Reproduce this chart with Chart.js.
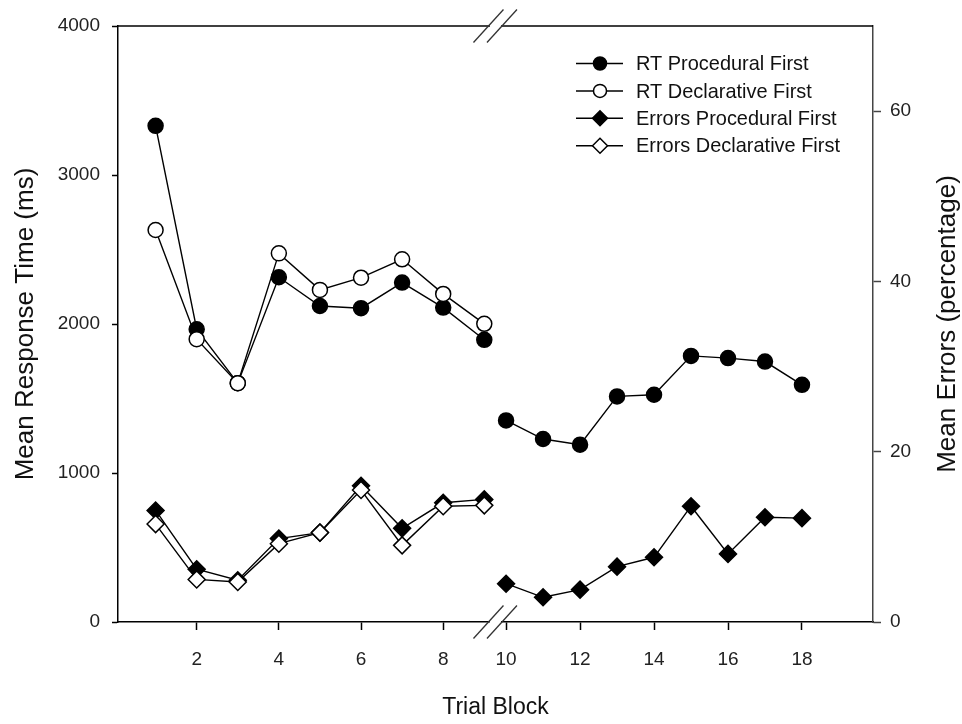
<!DOCTYPE html>
<html>
<head>
<meta charset="utf-8">
<style>
  html, body { margin: 0; padding: 0; background: #fff; }
  #chart { display: block; }
</style>
</head>
<body>
<canvas id="chart" width="962" height="724"></canvas>
<script src="https://cdn.jsdelivr.net/npm/chart.js@4/dist/chart.umd.min.js"></script>
<script>
const FONT = "'Liberation Sans', Arial, Helvetica, sans-serif";

// trial blocks, before and after the axis break
const blocksPhase1 = [1, 2, 3, 4, 5, 6, 7, 8, 9];
const blocksPhase2 = [10, 11, 12, 13, 14, 15, 16, 17, 18];

// mean response time (ms)
const rtProcedural = [3330, 1965, 1603, 2314, 2121, 2106, 2278, 2110, 1894,
                      1353, 1228, 1190, 1514, 1525, 1786, 1771, 1748, 1592];
const rtDeclarative = [2631, 1898, 1603, 2474, 2229, 2311, 2434, 2202, 2001];

// mean errors (percentage)
const errProcedural = [13.1, 6.2, 4.9, 9.8, 10.5, 16.0, 11.0, 14.0, 14.4,
                       4.5, 2.9, 3.8, 6.5, 7.6, 13.6, 8.0, 12.3, 12.2];
const errDeclarative = [11.5, 5.0, 4.7, 9.2, 10.5, 15.5, 9.0, 13.6, 13.7];

const xTicks = [2, 4, 6, 8, 10, 12, 14, 16, 18];
const rtTicks = [0, 1000, 2000, 3000, 4000];
const errTicks = [0, 20, 40, 60];

const seriesLabels = ['RT Procedural First', 'RT Declarative First',
                      'Errors Procedural First', 'Errors Declarative First'];

// broken x axis: [min, lo] on the left half, [hi, max] on the right half
const X_MIN = 0.085, X_MAX = 19.92;
const X_BREAK = { lo: 9.26, hi: 9.70, frac: 0.4993 };

class BrokenLinearScale extends Chart.LinearScale {
  getPixelForValue(value) {
    if (value === null || isNaN(value)) return NaN;
    let d;
    if (value <= X_BREAK.lo) {
      d = (value - this.min) / (X_BREAK.lo - this.min) * X_BREAK.frac;
    } else {
      d = X_BREAK.frac + (value - X_BREAK.hi) / (this.max - X_BREAK.hi) * (1 - X_BREAK.frac);
    }
    return this.getPixelForDecimal(d);
  }
  getValueForPixel(pixel) {
    const d = this.getDecimalForPixel(pixel);
    if (d <= X_BREAK.frac) return this.min + d / X_BREAK.frac * (X_BREAK.lo - this.min);
    return X_BREAK.hi + (d - X_BREAK.frac) / (1 - X_BREAK.frac) * (this.max - X_BREAK.hi);
  }
}
BrokenLinearScale.id = 'brokenLinear';
BrokenLinearScale.defaults = Chart.LinearScale.defaults;
Chart.register(BrokenLinearScale);

const allBlocks = blocksPhase1.concat(blocksPhase2);
const toPoints = (xs, ys) => ys.map((y, i) => ({ x: xs[i], y }));

// no line across the break
const breakSegment = {
  borderColor: c => (c.p0.parsed.x < X_BREAK.lo && c.p1.parsed.x > X_BREAK.hi) ? 'rgba(0,0,0,0)' : undefined
};

function series(label, data, axis, style, filled, order) {
  return {
    label,
    data,
    yAxisID: axis,
    borderColor: '#000',
    borderWidth: 1.4,
    pointStyle: style,
    pointRadius: style === 'circle' ? 7.5 : 8.5,
    pointBorderWidth: 1.5,
    pointBorderColor: '#000',
    pointBackgroundColor: filled ? '#000' : '#fff',
    tension: 0,
    order,
    segment: breakSegment
  };
}

const datasets = [
  series(seriesLabels[0], toPoints(allBlocks, rtProcedural), 'y', 'circle', true, 1),
  series(seriesLabels[1], toPoints(blocksPhase1, rtDeclarative), 'y', 'circle', false, 0),
  series(seriesLabels[2], toPoints(allBlocks, errProcedural), 'y1', 'rectRot', true, 1),
  series(seriesLabels[3], toPoints(blocksPhase1, errDeclarative), 'y1', 'rectRot', false, 0)
];

const decorations = {
  id: 'decorations',
  afterDraw(chart) {
    const { ctx, chartArea: a, scales } = chart;
    const bx = scales.x.getPixelForDecimal(X_BREAK.frac);
    ctx.save();

    // top frame line
    ctx.strokeStyle = '#000';
    ctx.lineWidth = 1.5;
    ctx.beginPath();
    ctx.moveTo(a.left, a.top);
    ctx.lineTo(a.right, a.top);
    ctx.stroke();

    // axis break marks
    [a.top, a.bottom].forEach(y => {
      ctx.fillStyle = '#fff';
      ctx.fillRect(bx - 5, y - 2.5, 11, 5);
      ctx.strokeStyle = '#333';
      ctx.lineWidth = 1.3;
      [-6.5, 7].forEach(off => {
        ctx.beginPath();
        ctx.moveTo(bx + off - 15, y + 16.5);
        ctx.lineTo(bx + off + 15, y - 16.5);
        ctx.stroke();
      });
    });

    // legend
    const lx = a.left + 458, ly = a.top + 37.5, rowH = 27.4;
    datasets.forEach((ds, i) => {
      const y = ly + i * rowH;
      ctx.strokeStyle = '#000';
      ctx.lineWidth = 1.5;
      ctx.beginPath();
      ctx.moveTo(lx, y);
      ctx.lineTo(lx + 47, y);
      ctx.stroke();
      ctx.fillStyle = ds.pointBackgroundColor;
      Chart.helpers.drawPoint(ctx, {
        pointStyle: ds.pointStyle,
        radius: ds.pointStyle === 'circle' ? 6.5 : 7.5,
        rotation: 0,
        borderWidth: 1.5
      }, lx + 24, y);
      ctx.save();
      ctx.translate(lx + 60, y);
      ctx.scale(0.95, 1);
      ctx.fillStyle = '#111';
      ctx.font = `21px ${FONT}`;
      ctx.textAlign = 'left';
      ctx.textBaseline = 'middle';
      ctx.fillText(ds.label, 0, 1);
      ctx.restore();
    });

    // axis titles
    ctx.fillStyle = '#111';
    ctx.textAlign = 'center';
    ctx.textBaseline = 'middle';
    const midY = (a.top + a.bottom) / 2;
    ctx.font = `26px ${FONT}`;
    [[26, 'Mean Response Time (ms)'], [948, 'Mean Errors (percentage)']].forEach(([x, t]) => {
      ctx.save();
      ctx.translate(x, midY);
      ctx.rotate(-Math.PI / 2);
      ctx.fillText(t, 0, 0);
      ctx.restore();
    });
    ctx.font = `23px ${FONT}`;
    ctx.fillText('Trial Block', (a.left + a.right) / 2, 708);
    ctx.restore();
  }
};

function axisStyle(tickLength, padding, color) {
  return {
    grid: { display: true, drawOnChartArea: false, drawTicks: true, tickLength, tickWidth: 1.5, tickColor: color },
    border: { display: true, color, width: 1.5 },
    ticks: {
      color: '#222',
      font: { family: FONT, size: 19 },
      padding,
      autoSkip: false,
      maxRotation: 0,
      callback: v => String(v)
    }
  };
}

new Chart(document.getElementById('chart').getContext('2d'), {
  type: 'line',
  data: { datasets },
  options: {
    responsive: false,
    animation: false,
    devicePixelRatio: 1,
    layout: { padding: { top: 26, left: 0, right: 0, bottom: 0 } },
    plugins: { legend: { display: false }, tooltip: { enabled: false } },
    scales: {
      x: {
        type: 'brokenLinear',
        position: 'bottom',
        min: X_MIN,
        max: X_MAX,
        afterBuildTicks: s => { s.ticks = xTicks.map(v => ({ value: v })); },
        afterFit: s => { s.height = 102; },
        ...axisStyle(8, 18, '#000')
      },
      y: {
        type: 'linear',
        position: 'left',
        min: 0,
        max: 4000,
        afterBuildTicks: s => { s.ticks = rtTicks.map(v => ({ value: v })); },
        afterFit: s => { s.width = 118; },
        ...axisStyle(6, 12, '#000')
      },
      y1: {
        type: 'linear',
        position: 'right',
        min: 0,
        max: 70,
        afterBuildTicks: s => { s.ticks = errTicks.map(v => ({ value: v })); },
        afterFit: s => { s.width = 89; },
        ...axisStyle(8, 9, '#444')
      }
    }
  },
  plugins: [decorations]
});
</script>
</body>
</html>
